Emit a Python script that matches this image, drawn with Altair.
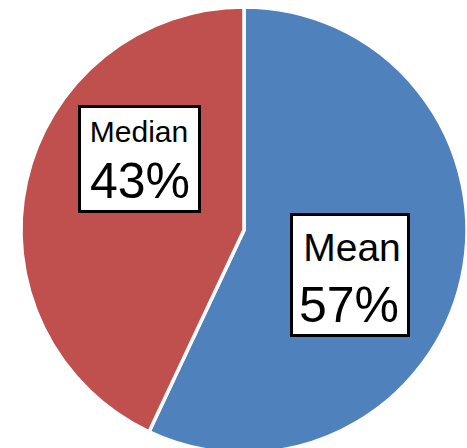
import altair as alt
import pandas as pd

categories = ["Mean", "Median"]
values = [57, 43]
pct_labels = ["57%", "43%"]
colors = ["#4F81BD", "#C0504D"]

df = pd.DataFrame({"category": categories, "value": values, "pct": pct_labels,
                   "order": [0, 1]})

base = alt.Chart(df)

CX, CY, R = 244, 230, 223

pie = base.mark_arc(radius=R, stroke="white", strokeWidth=3.5).encode(
    theta=alt.Theta("value:Q", stack=True),
    color=alt.Color("category:N", scale=alt.Scale(domain=categories, range=colors), legend=None),
    order=alt.Order("order:Q"),
    x=alt.value(CX),
    y=alt.value(CY),
)

FONT = "Liberation Sans"

def label_layers(cat, box, name_pos, name_size, pct_pos, pct_size):
    sub = base.transform_filter(alt.datum.category == cat)
    rect = sub.mark_rect(fill="white", stroke="black", strokeWidth=3).encode(
        x=alt.value(box[0]), x2=alt.value(box[1]), y=alt.value(box[2]), y2=alt.value(box[3])
    )
    name = sub.mark_text(font=FONT, fontSize=name_size, baseline="alphabetic", align="center",
                         color="black").encode(
        x=alt.value(name_pos[0]), y=alt.value(name_pos[1]), text="category:N"
    )
    pct = sub.mark_text(font=FONT, fontSize=pct_size, baseline="alphabetic", align="center",
                        color="black").encode(
        x=alt.value(pct_pos[0]), y=alt.value(pct_pos[1]), text="pct:N"
    )
    return [rect, name, pct]

layers = [pie]
layers += label_layers("Median", (79.5, 199.5, 106.5, 211.5), (139, 142), 30, (140, 198), 50)
layers += label_layers("Mean", (291.5, 408.5, 214.5, 335.5), (352, 261), 39, (349, 322), 50)

chart = alt.layer(*layers).properties(
    width=467, height=448, autosize="none", padding=0
).configure_view(stroke=None)

chart.save("out.html", embed_options={"renderer": "svg", "actions": False})
